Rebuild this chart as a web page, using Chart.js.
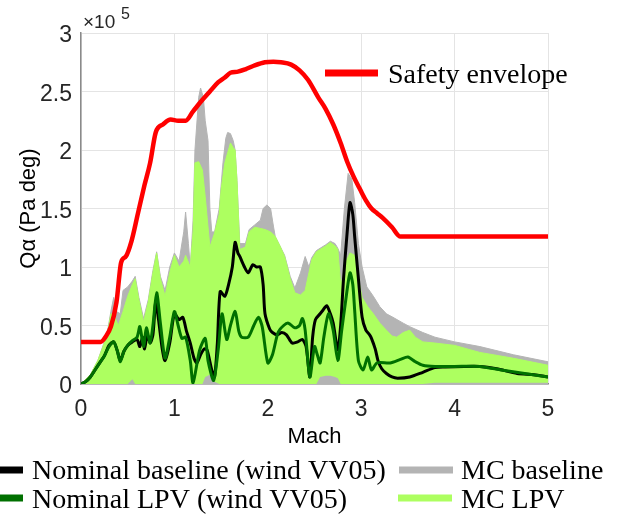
<!DOCTYPE html>
<html>
<head>
<meta charset="utf-8">
<script src="https://cdn.jsdelivr.net/npm/chart.js@4"></script>
<style>
  html, body { margin: 0; padding: 0; background: #fff; }
  #wrap { width: 625px; height: 515px; }
</style>
</head>
<body>
<div id="wrap"><canvas id="c" width="625" height="515"></canvas></div>
<script>
// ---- DATA (Q alpha in units of 1e5 Pa deg) ----
const xTicks = [0, 1, 2, 3, 4, 5];
const yTickLabels = ['0', '0.5', '1', '1.5', '2', '2.5', '3'];

const safetyMach = [0, 0.21, 0.26, 0.32, 0.38, 0.43, 0.48, 0.54, 0.61, 0.68, 0.74, 0.8, 0.88, 0.96, 1.04, 1.12, 1.2, 1.28, 1.38, 1.47, 1.54, 1.6, 1.68, 1.76, 1.85, 1.97, 2.06, 2.14, 2.25, 2.34, 2.43, 2.54, 2.62, 2.7, 2.78, 2.85, 2.92, 2.99, 3.05, 3.11, 3.17, 3.23, 3.33, 3.42, 4.0, 4.5, 5.0];
const safetyQ    = [0.36, 0.36, 0.4, 0.49, 0.7, 1.04, 1.09, 1.22, 1.46, 1.7, 1.89, 2.15, 2.22, 2.26, 2.25, 2.25, 2.33, 2.41, 2.5, 2.58, 2.62, 2.66, 2.67, 2.69, 2.72, 2.75, 2.755, 2.75, 2.73, 2.68, 2.6, 2.45, 2.35, 2.22, 2.06, 1.9, 1.77, 1.66, 1.57, 1.5, 1.46, 1.42, 1.34, 1.26, 1.26, 1.26, 1.26];

const nomBaseMach = [0, 0.05, 0.1, 0.15, 0.2, 0.25, 0.3, 0.35, 0.39, 0.42, 0.46, 0.5, 0.55, 0.6, 0.63, 0.66, 0.68, 0.71, 0.74, 0.77, 0.8, 0.83, 0.87, 0.9, 0.95, 1.0, 1.05, 1.09, 1.13, 1.17, 1.21, 1.24, 1.28, 1.32, 1.35, 1.4, 1.43, 1.46, 1.49, 1.54, 1.58, 1.62, 1.65, 1.68, 1.7, 1.75, 1.79, 1.84, 1.88, 1.92, 1.95, 1.97, 2.02, 2.05, 2.1, 2.15, 2.2, 2.26, 2.32, 2.37, 2.41, 2.45, 2.48, 2.51, 2.56, 2.59, 2.63, 2.67, 2.7, 2.75, 2.78, 2.81, 2.85, 2.88, 2.91, 2.93, 2.97, 3.01, 3.05, 3.09, 3.11, 3.15, 3.18, 3.22, 3.27, 3.33, 3.39, 3.52, 3.66, 3.79, 3.9, 4.1, 4.27, 4.45, 4.67, 4.85, 5.0];
const nomBaseQ    = [0, 0.02, 0.06, 0.12, 0.18, 0.24, 0.33, 0.36, 0.28, 0.2, 0.28, 0.33, 0.36, 0.38, 0.32, 0.4, 0.3, 0.42, 0.35, 0.42, 0.7, 0.55, 0.3, 0.2, 0.35, 0.6, 0.55, 0.57, 0.45, 0.35, 0.22, 0.18, 0.25, 0.3, 0.29, 0.12, 0.06, 0.35, 0.79, 0.75, 0.85, 1.0, 1.21, 1.12, 1.09, 1.0, 0.95, 1.02, 1.0, 1.0, 0.85, 0.6, 0.47, 0.44, 0.42, 0.44, 0.42, 0.35, 0.36, 0.38, 0.32, 0.06, 0.4, 0.55, 0.6, 0.63, 0.67, 0.6, 0.52, 0.29, 0.5, 0.89, 1.3, 1.55, 1.45, 1.26, 0.9, 0.57, 0.46, 0.42, 0.39, 0.3, 0.2, 0.13, 0.09, 0.06, 0.05, 0.06, 0.1, 0.14, 0.145, 0.15, 0.15, 0.13, 0.09, 0.08, 0.06];

const nomLpvMach = [0, 0.05, 0.1, 0.15, 0.2, 0.25, 0.3, 0.35, 0.39, 0.42, 0.46, 0.5, 0.55, 0.6, 0.63, 0.67, 0.7, 0.74, 0.77, 0.81, 0.85, 0.9, 0.95, 1.0, 1.04, 1.08, 1.12, 1.17, 1.2, 1.27, 1.33, 1.36, 1.42, 1.47, 1.51, 1.56, 1.6, 1.65, 1.69, 1.72, 1.79, 1.85, 1.9, 1.94, 2.0, 2.05, 2.11, 2.17, 2.22, 2.29, 2.34, 2.37, 2.4, 2.45, 2.5, 2.53, 2.56, 2.6, 2.65, 2.7, 2.75, 2.79, 2.83, 2.88, 2.91, 2.93, 2.97, 3.02, 3.07, 3.11, 3.17, 3.31, 3.42, 3.5, 3.58, 3.66, 3.79, 4.0, 4.27, 4.5, 4.75, 5.0];
const nomLpvQ    = [0, 0.02, 0.06, 0.12, 0.18, 0.24, 0.32, 0.36, 0.28, 0.19, 0.28, 0.33, 0.37, 0.4, 0.49, 0.32, 0.48, 0.35, 0.5, 0.78, 0.52, 0.22, 0.4, 0.62, 0.5, 0.39, 0.4, 0.2, 0.01, 0.29, 0.39, 0.2, 0.03, 0.3, 0.6, 0.38, 0.5, 0.62, 0.45, 0.4, 0.4, 0.5, 0.57, 0.49, 0.18, 0.25, 0.44, 0.5, 0.52, 0.48, 0.5, 0.56, 0.46, 0.06, 0.32, 0.25, 0.18, 0.4, 0.6, 0.46, 0.2, 0.45, 0.69, 0.95, 0.85, 0.63, 0.2, 0.12, 0.23, 0.12, 0.18, 0.18, 0.21, 0.23, 0.19, 0.16, 0.15, 0.15, 0.15, 0.12, 0.09, 0.06];

const mcBaseMach  = [0, 0.1, 0.18, 0.25, 0.29, 0.32, 0.35, 0.38, 0.42, 0.45, 0.5, 0.55, 0.58, 0.62, 0.67, 0.72, 0.77, 0.81, 0.85, 0.9, 0.95, 1.0, 1.05, 1.1, 1.12, 1.15, 1.17, 1.2, 1.22, 1.26, 1.28, 1.31, 1.33, 1.36, 1.38, 1.4, 1.43, 1.48, 1.52, 1.55, 1.57, 1.6, 1.63, 1.65, 1.67, 1.7, 1.76, 1.8, 1.86, 1.92, 1.95, 1.99, 2.03, 2.06, 2.08, 2.13, 2.18, 2.24, 2.29, 2.35, 2.4, 2.44, 2.47, 2.52, 2.56, 2.62, 2.67, 2.72, 2.75, 2.78, 2.82, 2.86, 2.9, 2.93, 2.97, 3.01, 3.06, 3.13, 3.2, 3.27, 3.34, 3.45, 3.52, 3.66, 3.79, 4.0, 4.27, 4.63, 5.0];
const mcBaseUpper = [0, 0.08, 0.2, 0.36, 0.48, 0.62, 0.74, 0.62, 0.6, 0.8, 0.83, 0.88, 0.92, 0.74, 0.56, 0.72, 0.97, 1.13, 0.92, 0.8, 1.0, 1.12, 1.05, 1.3, 1.47, 1.2, 1.0, 1.4, 2.0, 2.45, 2.53, 2.45, 2.25, 2.08, 1.5, 1.3, 1.3, 1.5, 1.89, 2.1, 2.15, 2.14, 2.08, 2.0, 1.74, 1.2, 1.2, 1.32, 1.36, 1.4, 1.5, 1.53, 1.5, 1.35, 1.26, 1.18, 1.1, 0.92, 0.82, 0.95, 1.09, 1.0, 1.08, 1.14, 1.16, 1.19, 1.22, 1.2, 1.16, 1.1, 1.5, 1.8, 1.75, 1.55, 1.2, 1.0, 0.83, 0.75, 0.66, 0.6, 0.57, 0.52, 0.49, 0.44, 0.4, 0.36, 0.32, 0.25, 0.19];

const mcLpvMach  = [0, 0.1, 0.18, 0.25, 0.29, 0.32, 0.35, 0.4, 0.45, 0.5, 0.55, 0.58, 0.62, 0.67, 0.72, 0.77, 0.81, 0.85, 0.9, 0.95, 1.0, 1.05, 1.1, 1.12, 1.17, 1.2, 1.22, 1.26, 1.3, 1.33, 1.38, 1.43, 1.48, 1.5, 1.54, 1.6, 1.63, 1.65, 1.67, 1.7, 1.76, 1.8, 1.86, 1.92, 1.97, 2.03, 2.08, 2.13, 2.18, 2.24, 2.29, 2.35, 2.4, 2.44, 2.47, 2.52, 2.56, 2.62, 2.67, 2.72, 2.75, 2.78, 2.8, 2.84, 2.88, 2.93, 2.97, 3.01, 3.07, 3.13, 3.2, 3.27, 3.33, 3.38, 3.45, 3.52, 3.58, 3.66, 3.79, 4.0, 4.27, 4.63, 5.0];
const mcLpvUpper = [0, 0.08, 0.2, 0.35, 0.46, 0.6, 0.59, 0.5, 0.62, 0.75, 0.85, 0.9, 0.72, 0.53, 0.7, 0.95, 1.12, 0.9, 0.75, 0.95, 1.1, 1.0, 1.05, 1.1, 1.0, 1.3, 1.89, 1.9, 1.83, 1.6, 1.17, 1.29, 1.45, 1.66, 1.89, 2.06, 2.02, 2.0, 1.74, 1.15, 1.17, 1.3, 1.34, 1.33, 1.32, 1.3, 1.26, 1.18, 1.09, 0.9, 0.78, 0.76, 0.8, 0.95, 1.06, 1.13, 1.15, 1.18, 1.21, 1.18, 1.15, 0.85, 0.9, 1.05, 1.12, 1.1, 0.9, 0.74, 0.66, 0.6, 0.52, 0.46, 0.41, 0.4, 0.44, 0.46, 0.4, 0.36, 0.35, 0.33, 0.27, 0.22, 0.16];
const mcLpvLower = [0, 0, 0, 0, 0, 0, 0, 0, 0, 0, 0.04,
  0, 0, 0, 0, 0, 0, 0, 0, 0, 0, 0, 0, 0, 0, 0, 0, 0, 0,
  0.06, 0.08, 0.02,
  0, 0, 0, 0, 0, 0, 0, 0, 0, 0, 0, 0, 0, 0, 0, 0, 0, 0, 0, 0, 0, 0, 0, 0,
  0.06, 0.07, 0.07, 0.06, 0.05,
  0, 0, 0, 0, 0, 0, 0, 0, 0, 0, 0, 0, 0, 0, 0, 0, 0,
  0.01, 0.01, 0.01, 0.01, 0.01];

const labels = {
  safety: 'Safety envelope',
  nomBase: 'Nominal baseline (wind VV05)',
  nomLpv: 'Nominal LPV (wind VV05)',
  mcBase: 'MC baseline',
  mcLpv: 'MC LPV'
};

// ---- STYLE ----
const C = {
  red: '#ff0000', black: '#000000', dkgreen: '#007000',
  gray: 'rgb(180,180,180)', lime: 'rgb(173,255,96)'
};

function pts(xs, ys) { return xs.map((x, i) => ({ x: x, y: ys[i] })); }

const legendPlugin = {
  id: 'customLegend',
  afterDraw(chart) {
    const ctx = chart.ctx;
    ctx.save();
    // exponent label
    ctx.fillStyle = '#262626';
    ctx.textBaseline = 'alphabetic';
    ctx.textAlign = 'left';
    ctx.font = '19px "Liberation Sans", Arial, sans-serif';
    ctx.fillText('\u00d710', 83, 28);
    ctx.font = '16px "Liberation Sans", Arial, sans-serif';
    ctx.fillText('5', 121, 19);

    const serif = '28px "Liberation Serif", "Times New Roman", serif';
    function entry(x0, x1, y, color, text, tx, ty) {
      ctx.strokeStyle = color;
      ctx.lineWidth = 7;
      ctx.lineCap = 'butt';
      ctx.beginPath(); ctx.moveTo(x0, y); ctx.lineTo(x1, y); ctx.stroke();
      ctx.fillStyle = '#000';
      ctx.font = serif;
      ctx.fillText(text, tx, ty);
    }
    entry(325, 378, 73, C.red, labels.safety, 388, 83);
    entry(0, 23, 470, C.black, labels.nomBase, 32, 479);
    entry(399, 453, 470, C.gray, labels.mcBase, 461, 479);
    entry(0, 23, 498, C.dkgreen, labels.nomLpv, 32, 508);
    entry(398, 452, 498, C.lime, labels.mcLpv, 461, 508);
    ctx.restore();
  }
};

const sans = '"Liberation Sans", Arial, sans-serif';

new Chart(document.getElementById('c'), {
  type: 'line',
  data: {
    datasets: [
      { label: labels.mcBase, data: pts(mcBaseMach, mcBaseUpper), borderColor: C.gray, backgroundColor: C.gray,
        borderWidth: 1, fill: 'origin', pointRadius: 0, tension: 0, order: 5 },
      { label: 'mcLpvLower', data: pts(mcLpvMach, mcLpvLower), borderColor: 'rgba(0,0,0,0)', borderWidth: 0,
        fill: false, pointRadius: 0, tension: 0, order: 4 },
      { label: labels.mcLpv, data: pts(mcLpvMach, mcLpvUpper), borderColor: C.lime, backgroundColor: C.lime,
        borderWidth: 1, fill: 1, pointRadius: 0, tension: 0, order: 3 },
      { label: labels.nomBase, data: pts(nomBaseMach, nomBaseQ), borderColor: C.black, borderWidth: 3,
        fill: false, pointRadius: 0, tension: 0.25, order: 2 },
      { label: labels.nomLpv, data: pts(nomLpvMach, nomLpvQ), borderColor: C.dkgreen, borderWidth: 3,
        fill: false, pointRadius: 0, tension: 0.25, order: 1 },
      { label: labels.safety, data: pts(safetyMach, safetyQ), borderColor: C.red, borderWidth: 4.5,
        fill: false, pointRadius: 0, cubicInterpolationMode: 'monotone', order: 0 }
    ]
  },
  options: {
    responsive: false,
    animation: false,
    layout: { padding: { left: 0, right: 77, top: 33, bottom: 65 } },
    plugins: { legend: { display: false }, tooltip: { enabled: false } },
    scales: {
      x: {
        type: 'linear', min: 0, max: 5,
        afterBuildTicks: (s) => { s.ticks = xTicks.map(v => ({ value: v })); },
        afterFit: (s) => { s.height = 66; },
        grid: { color: 'rgb(228,228,228)', lineWidth: 1, drawTicks: false },
        border: { color: '#8a8a8a', width: 1.5 },
        ticks: { padding: 12, color: '#262626', font: { family: sans, size: 23 }, maxRotation: 0 },
        title: { display: true, text: 'Mach', color: '#000', font: { family: sans, size: 22 }, padding: { top: 0, bottom: 0 } }
      },
      y: {
        type: 'linear', min: 0, max: 3,
        afterBuildTicks: (s) => { s.ticks = yTickLabels.map((t, i) => ({ value: i * 0.5 })); },
        afterFit: (s) => { s.width = 81; },
        grid: { color: 'rgb(228,228,228)', lineWidth: 1, drawTicks: false },
        border: { color: '#8a8a8a', width: 1.5 },
        ticks: { padding: 9, labelOffset: 3, color: '#262626', font: { family: sans, size: 23 },
          callback: (v, i) => yTickLabels[i] },
        title: { display: true, text: 'Q\u03b1 (Pa deg)', color: '#000', font: { family: sans, size: 22 }, padding: { top: 16, bottom: 0 } }
      }
    }
  },
  plugins: [legendPlugin]
});
</script>
</body>
</html>
